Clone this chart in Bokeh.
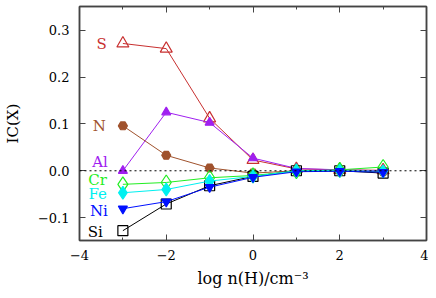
from bokeh.plotting import figure
from bokeh.models import FixedTicker, LinearAxis, Span, Range1d, Label
from bokeh.embed import file_html
from bokeh.resources import INLINE

# ---- data ----
log_nH = [-3, -2, -1, 0, 1, 2, 3]
ic_S = [0.272, 0.261, 0.112, 0.023, 0.004, 0.002, 0.001]
ic_Al = [0.0, 0.125, 0.103, 0.027, 0.005, 0.002, 0.0]
ic_N = [0.096, 0.033, 0.006, -0.005, 0.0, 0.0, -0.002]
ic_Si = [-0.128, -0.071, -0.032, -0.012, 0.0, 0.0, -0.005]
ic_Cr = [-0.029, -0.025, -0.015, -0.010, -0.001, 0.002, 0.008]
ic_Fe = [-0.047, -0.040, -0.022, -0.012, 0.0, 0.0, -0.001]
ic_Ni = [-0.081, -0.066, -0.035, -0.014, -0.002, -0.001, -0.003]

elements = ["S", "Al", "N", "Si", "Cr", "Fe", "Ni"]
label_y = [0.270, 0.019, 0.096, -0.130, -0.019, -0.049, -0.085]

x_ticks = [-4, -2, 0, 2, 4]
x_minor = [-3, -1, 1, 3]
x_tick_labels = ["\u22124", "\u22122", "0", "2", "4"]
y_ticks = [-0.1, 0.0, 0.1, 0.2, 0.3]
y_tick_labels = ["\u22120.1", "0.0", "0.1", "0.2", "0.3"]

series = {"S": ic_S, "Al": ic_Al, "N": ic_N, "Si": ic_Si,
          "Cr": ic_Cr, "Fe": ic_Fe, "Ni": ic_Ni}

styles = {
    "S": dict(marker="triangle", color="#c83030", size=12, filled=False, dx=-16),
    "Al": dict(marker="triangle", color="#a020f0", size=9, filled=True, dx=-15),
    "N": dict(marker="hex", color="#a0522d", size=9, filled=True, dx=-17),
    "Si": dict(marker="square", color="#000000", size=10, filled=False, dx=-20),
    "Cr": dict(marker="diamond", color="#22ee22", size=15, filled=False, dx=-16),
    "Fe": dict(marker="diamond", color="#00f0f0", size=13, filled=True, dx=-16),
    "Ni": dict(marker="inverted_triangle", color="#0010ff", size=9, filled=True, dx=-15),
}

FONT = "DejaVu Serif"
AXC = "#444444"

p = figure(width=428, height=290, output_backend="svg", toolbar_location=None,
           x_range=Range1d(-4, 4), y_range=Range1d(-0.149, 0.351),
           min_border_left=78, min_border_right=2, min_border_top=6,
           min_border_bottom=49)
p.grid.visible = False
p.outline_line_color = AXC
p.outline_line_width = 1.5
p.background_fill_color = "white"
p.border_fill_color = "white"

p.xaxis.ticker = FixedTicker(ticks=x_ticks, minor_ticks=x_minor)
p.yaxis.ticker = FixedTicker(ticks=y_ticks, minor_ticks=[])
p.xaxis.major_label_overrides = dict(zip(x_ticks, x_tick_labels))
p.yaxis.major_label_overrides = dict(zip(y_ticks, y_tick_labels))

p.xaxis.axis_label = "log n(H)/cm\u207b\u00b3"
p.yaxis.axis_label = "IC(X)"

for ax in (p.xaxis[0], p.yaxis[0]):
    ax.axis_line_color = AXC
    ax.axis_line_width = 1.5
    ax.major_tick_line_color = AXC
    ax.minor_tick_line_color = AXC
    ax.major_tick_in = 6
    ax.major_tick_out = 0
    ax.minor_tick_in = 3
    ax.minor_tick_out = 0
    ax.major_label_text_font = FONT
    ax.major_label_text_font_size = "13px"
    ax.major_label_text_color = "black"
    ax.axis_label_text_font = FONT
    ax.axis_label_text_font_style = "normal"
    ax.axis_label_text_color = "black"

p.xaxis.axis_label_text_font_size = "16px"
p.yaxis.axis_label_text_font_size = "15px"
p.xaxis.major_label_standoff = 9
p.xaxis.axis_label_standoff = 6
p.yaxis.major_label_standoff = 10
p.yaxis.axis_label_standoff = 13

# mirrored ticks on top and right
for loc, tick, ticks in (("above", FixedTicker(ticks=x_ticks, minor_ticks=x_minor), x_ticks),
                         ("right", FixedTicker(ticks=y_ticks, minor_ticks=[]), y_ticks)):
    ax = LinearAxis(ticker=tick)
    ax.axis_line_color = AXC
    ax.axis_line_width = 1.5
    ax.major_tick_line_color = AXC
    ax.minor_tick_line_color = AXC
    ax.major_tick_in = 6
    ax.major_tick_out = 0
    ax.minor_tick_in = 3
    ax.minor_tick_out = 0
    ax.major_label_overrides = {t: "" for t in ticks}
    ax.major_label_standoff = 0
    p.add_layout(ax, loc)

p.add_layout(Span(location=0, dimension="width", line_color="black",
                  line_width=1, line_dash="2 3"))

for name in elements:
    st = styles[name]
    ys = series[name]
    p.line(log_nH, ys, line_color=st["color"], line_width=1)
    p.scatter(log_nH, ys, marker=st["marker"], size=st["size"],
              line_color=st["color"], line_width=1.2,
              fill_color=st["color"] if st["filled"] else None,
              fill_alpha=1.0 if st["filled"] else 0.0)

for name, ly in zip(elements, label_y):
    st = styles[name]
    p.add_layout(Label(x=log_nH[0], y=ly, text=name, x_offset=st["dx"],
                       text_font=FONT, text_font_size="15px", text_align="right",
                       text_baseline="middle", text_color=st["color"]))

open("out.html", "w").write(file_html(p, INLINE))
